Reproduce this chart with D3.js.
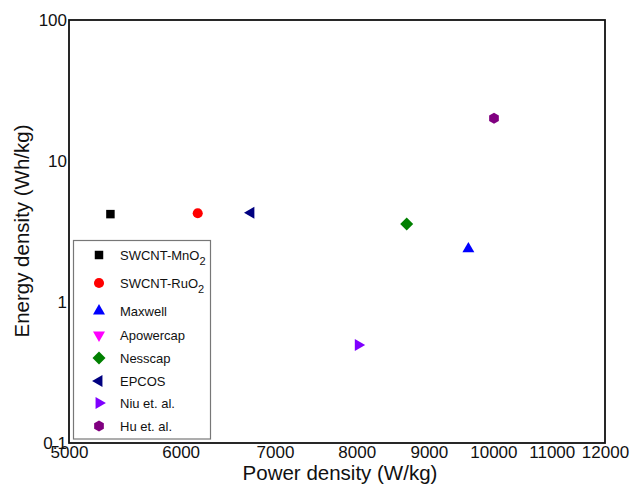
<!DOCTYPE html>
<html>
<head>
<meta charset="utf-8">
<script src="https://cdn.jsdelivr.net/npm/d3@7"></script>
<style>
  body { margin: 0; background: #fff; }
  text { font-family: "Liberation Sans", Arial, sans-serif; fill: #111; }
</style>
</head>
<body>
<svg id="chart" width="633" height="494"></svg>
<script>

// legend entries, in legend order
var names = ["SWCNT-MnO", "SWCNT-RuO", "Maxwell", "Apowercap", "Nesscap", "EPCOS", "Niu et. al.", "Hu et. al."]
var subs = ["2", "2", "", "", "", "", "", ""]
var colors = ["#000000", "#ff0000", "#0000ff", "#ff00ff", "#008000", "#000080", "#7f00ff", "#800080"]
var shapes = ["square", "circle", "triUp", "triDown", "diamond", "triLeft", "triRight", "hexagon"]

// power density (W/kg) and energy density (Wh/kg); Apowercap has no point
var power = [5350, 6170, 9600, null, 8680, 6730, 8020, 10010]
var energy = [4.2, 4.26, 2.38, null, 3.57, 4.3, 0.495, 20.1]

var xTicks = [5000, 6000, 7000, 8000, 9000, 10000, 11000, 12000]
var yTicks = [0.1, 1, 10, 100]

var svg = d3.select('#chart')

// plot box ("top" is taken by window.top, so use other names)
var pLeft = 69, pRight = 605, pTop = 20, pBottom = 443

var x = d3.scaleLog().domain([5000, 12000]).range([pLeft, pRight])
var y = d3.scaleLog().domain([0.1, 100]).range([pBottom, pTop])

// marker path for each shape
function marker(s) {
    var tri = d3.symbol().type(d3.symbolTriangle).size(62)()
    if (s == "square") return d3.symbol().type(d3.symbolSquare).size(72)()
    if (s == "circle") return d3.symbol().type(d3.symbolCircle).size(80)()
    if (s == "diamond") return "M0,-6.5L6.5,0L0,6.5L-6.5,0Z"
    if (s == "hexagon") {
        var r = 5.6, pts = []
        for (var i = 0; i < 6; i++) {
            var a = Math.PI / 3 * i - Math.PI / 2
            pts.push([r * Math.cos(a), r * Math.sin(a)])
        }
        return "M" + pts.join("L") + "Z"
    }
    return tri
}

function rot(s) {
    if (s == "triDown") return 180
    if (s == "triLeft") return -90
    if (s == "triRight") return 90
    return 0
}

// axes
var xAxis = svg.append("g")
        .attr("transform", "translate(0," + pBottom + ")")
        .call(d3.axisBottom(x).tickValues(xTicks).tickSize(0).tickPadding(3).tickFormat(d3.format("d")))

var yAxis = svg.append("g")
        .attr("transform", "translate(" + pLeft + ",0)")
        .call(d3.axisLeft(y).tickValues(yTicks).tickSize(0).tickPadding(2).tickFormat(function(d) { return d; }))

svg.selectAll(".domain").remove()
svg.selectAll(".tick text")
        .attr("font-size", "17px")
        .attr("font-family", "'Liberation Sans', Arial, sans-serif")
        .attr("fill", "#111")

// frame
svg.append("rect")
        .attr("x", pLeft)
        .attr("y", pTop)
        .attr("width", pRight - pLeft)
        .attr("height", pBottom - pTop)
        .attr("fill", "none")
        .attr("stroke", "#111")
        .attr("stroke-width", 1.8)

// axis titles
svg.append("text")
        .attr("x", 340)
        .attr("y", 480)
        .attr("text-anchor", "middle")
        .attr("font-size", "20.5px")
        .text("Power density (W/kg)")

svg.append("text")
        .attr("transform", "translate(29,231) rotate(-90)")
        .attr("text-anchor", "middle")
        .attr("font-size", "20.5px")
        .text("Energy density (Wh/kg)")

// points
var idx = d3.range(names.length).filter(function(i) { return power[i] != null; })

svg.selectAll(".pt")
        .data(idx)
        .enter()
        .append("path")
        .attr("class", "pt")
        .attr("d", function(i) { return marker(shapes[i]); })
        .attr("transform", function(i) {
            return "translate(" + x(power[i]) + "," + y(energy[i]) + ") rotate(" + rot(shapes[i]) + ")"
        })
        .attr("fill", function(i) { return colors[i]; })

// legend
var legend = svg.append("g")

legend.append("rect")
        .attr("x", 73.5)
        .attr("y", 240.5)
        .attr("width", 137)
        .attr("height", 198.5)
        .attr("fill", "#fff")
        .attr("stroke", "#777")
        .attr("stroke-width", 1.2)

var rowY = [255, 283, 311, 335, 358, 381, 403, 426]

var rows = legend.selectAll(".row")
        .data(d3.range(names.length))
        .enter()
        .append("g")
        .attr("class", "row")

rows.append("path")
        .attr("d", function(i) { return marker(shapes[i]); })
        .attr("transform", function(i) { return "translate(99," + rowY[i] + ") rotate(" + rot(shapes[i]) + ")"; })
        .attr("fill", function(i) { return colors[i]; })

var labels = rows.append("text")
        .attr("x", 120)
        .attr("y", function(i) { return rowY[i] + 4.5; })
        .attr("font-size", "13px")
        .text(function(i) { return names[i]; })

labels.filter(function(i) { return subs[i] != ""; })
        .append("tspan")
        .attr("dy", 5)
        .attr("font-size", "11px")
        .text(function(i) { return subs[i]; })

</script>
</body>
</html>
